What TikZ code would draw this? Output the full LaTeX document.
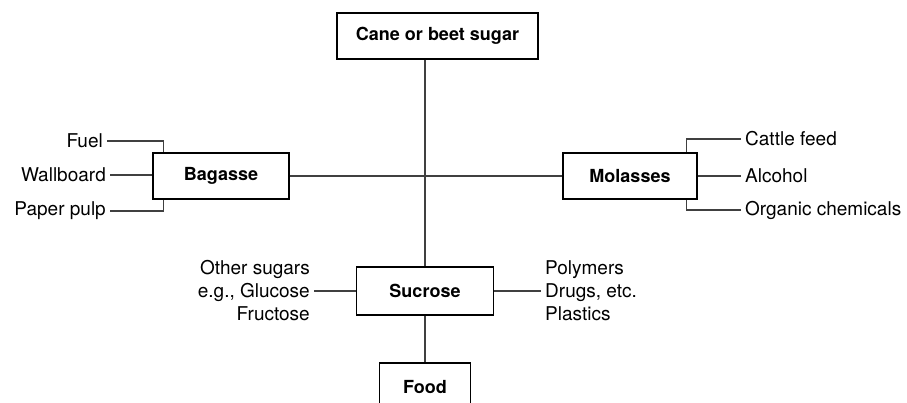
\documentclass[tikz,border=0pt]{standalone}
\usepackage{fontspec}
\setmainfont{TeX Gyre Heros}
\usetikzlibrary{positioning}
\tikzset{
  box/.style={draw, line width=1.2pt, minimum height=46pt,
    font=\fontsize{18}{21}\selectfont\bfseries},
  lbl/.style={font=\fontsize{19}{23}\selectfont, inner sep=4pt},
  link/.style={line width=1.1pt, black!75},
}

\begin{document}
\begin{tikzpicture}[x=1pt, y=-1pt]
\path[use as bounding box] (0,0) rectangle (907,403);
\clip (0,0) rectangle (907,403);

% main stem: cane -> sucrose -> food
\node[box, minimum width=201pt] (cane) at (437.5, 36) {Cane or beet sugar};
\node[box, minimum width=137pt, minimum height=48pt] (suc) at (425, 291) {Sucrose};
\node[box, minimum width=91pt, minimum height=48pt] (food) at (425, 387) {Food};
\draw[link] (suc.north |- cane.south) -- (suc.north);
\draw[link] (suc.south) -- (food.north);

% by-products on the cross line
\node[box, minimum width=136pt] (bag) at (221, 176) {Bagasse};
\node[box, minimum width=134pt] (mol) at (630, 176) {Molasses};
\draw[link] (bag.east) -- (mol.west);

% bagasse uses
\node[lbl, anchor=east] (fuel) at (107, 141) {Fuel};
\node[lbl, anchor=east] (wall) at (110, 175) {Wallboard};
\node[lbl, anchor=east] (pulp) at (110, 211) {Paper pulp};
\draw[link] (fuel.east) -| ([xshift=11pt]bag.north west);
\draw[link] (wall.east) -- (bag.west |- wall.east);
\draw[link] (pulp.east) -| ([xshift=11pt]bag.south west);

% molasses uses
\node[lbl, anchor=west] (cattle) at (741, 139) {Cattle feed};
\node[lbl, anchor=west] (alc) at (741, 176) {Alcohol};
\node[lbl, anchor=west] (orgchem) at (741, 210) {Organic chemicals};
\draw[link] (cattle.west) -| ([xshift=-11pt]mol.north east);
\draw[link] (mol.east) -- (alc.west);
\draw[link] (orgchem.west) -| ([xshift=-11pt]mol.south east);

% sucrose uses
\node[lbl, anchor=east, align=right] (other) at (314, 291)
  {Other sugars\\e.g., Glucose\\Fructose};
\node[lbl, anchor=west, align=left] (poly) at (541, 291)
  {Polymers\\Drugs, etc.\\Plastics};
\draw[link] (other.east) -- (suc.west);
\draw[link] (suc.east) -- (poly.west);
\end{tikzpicture}
\end{document}
